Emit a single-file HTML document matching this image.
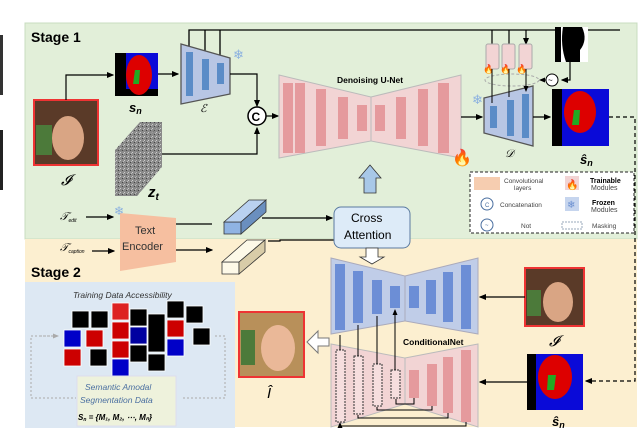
<!DOCTYPE html>
<html><head><style>body{margin:0;background:#fff}svg{display:block}text{font-family:"Liberation Sans",sans-serif}</style></head><body>
<svg width="640" height="428" viewBox="0 0 640 428" xmlns="http://www.w3.org/2000/svg">
<defs>
<marker id="a" markerWidth="6" markerHeight="6" refX="5" refY="3" orient="auto"><path d="M0,0.5 L6,3 L0,5.5z" fill="#000"/></marker>
<marker id="g" markerWidth="6" markerHeight="6" refX="5" refY="3" orient="auto"><path d="M0,0.5 L6,3 L0,5.5z" fill="#aaa"/></marker>
<pattern id="n" width="4" height="4" patternUnits="userSpaceOnUse"><rect width="4" height="4" fill="#8a8a8a"/><rect width="1" height="1" fill="#ccc"/><rect x="2" y="2" width="1" height="1" fill="#444"/><rect x="3" y="1" width="1" height="1" fill="#bbb"/></pattern>
</defs>
<rect x="0" y="35" width="3" height="60" fill="#333"/><rect x="0" y="130" width="3" height="60" fill="#222"/>
<rect x="25" y="23" width="612" height="216" fill="#e2efd9" stroke="#c8dcc0"/>
<rect x="25" y="239" width="612" height="188" fill="#fcefd0"/>
<rect x="25" y="282" width="210" height="146" fill="#dde8f3"/>
<text x="31" y="42" font-size="14" font-weight="bold">Stage 1</text>
<text x="31" y="277" font-size="14" font-weight="bold">Stage 2</text>
<path d="M189,54 V30 H620 M205,60 V30 M220,65 V30" stroke="#000" stroke-width="1.3" fill="none"/>
<path d="M492,30 V44 M509,30 V44 M526,30 V44" stroke="#000" stroke-width="1.2" marker-end="url(#a)"/>
<!-- face I -->
<rect x="34" y="100" width="64" height="65" fill="#5a3a28" stroke="#e33" stroke-width="2"/>
<rect x="36" y="125" width="16" height="30" fill="#4c7a3a"/>
<ellipse cx="68" cy="138" rx="16" ry="22" fill="#d9a584"/>
<text x="61" y="185" font-size="15" font-style="italic" font-family="Liberation Serif">𝓘</text>
<path d="M66,100 V75 H113" stroke="#000" stroke-width="1.2" fill="none" marker-end="url(#a)"/>
<rect x="115" y="53" width="43" height="43" fill="#000"/><rect x="126" y="53" width="32" height="36" fill="#0a0ad8"/>
<ellipse cx="139" cy="75" rx="13" ry="20" fill="#d00"/><path d="M135,70 L140,70 L139,84 L133,84z" fill="#2a2"/>
<text x="129" y="112" font-size="13" font-style="italic" font-weight="bold" font-family="Liberation Serif">s<tspan font-size="9" dy="2">n</tspan></text>
<path d="M158,74 H178" stroke="#000" stroke-width="1.2" marker-end="url(#a)"/>
<path d="M181,44 L230,58 L230,94 L181,104z" fill="#b8c6e4" stroke="#555" stroke-width="1.3"/>
<rect x="186" y="52" width="7" height="44" fill="#5b8cc7"/><rect x="202" y="59" width="7" height="31" fill="#5b8cc7"/><rect x="217" y="63" width="7" height="21" fill="#5b8cc7"/>
<text x="233" y="59" font-size="13" fill="#8ab0e0">❄</text>
<text x="200" y="112" font-size="11" font-style="italic" font-family="Liberation Serif">ℰ</text>
<path d="M230,74 H257 V106" stroke="#000" stroke-width="1.2" fill="none" marker-end="url(#a)"/>
<circle cx="257" cy="116" r="9" fill="#fff" stroke="#000" stroke-width="1.5"/>
<text x="251.5" y="121" font-size="12" font-weight="bold">C</text>
<path d="M266,116 H278" stroke="#000" stroke-width="1.2" marker-end="url(#a)"/>
<path d="M115,150 L140,122 L162,122 L162,167 L137,196 L115,196z" fill="url(#n)"/>
<path d="M115,150 L137,150 L137,196 M137,150 L162,122" stroke="#666" fill="none" stroke-width="0.5"/>
<text x="148" y="197" font-size="15" font-weight="bold" font-style="italic" font-family="Liberation Serif">z<tspan font-size="10" dy="3">t</tspan></text>
<path d="M162,154 H257 V128" stroke="#000" stroke-width="1.2" fill="none" marker-end="url(#a)"/>
<path d="M279,75 L371,97 L371,141 L279,158z" fill="#f2d4d4" stroke="#bbb"/>
<path d="M371,97 L461,75 L461,158 L371,141z" fill="#f2d4d4" stroke="#bbb"/>
<rect x="283" y="83" width="10" height="70" fill="#e59a9d"/><rect x="295" y="83" width="10" height="70" fill="#e59a9d"/><rect x="316" y="89" width="10" height="57" fill="#e59a9d"/><rect x="338" y="97" width="10" height="42" fill="#e59a9d"/><rect x="357" y="105" width="10" height="26" fill="#e59a9d"/>
<rect x="375" y="105" width="10" height="26" fill="#e59a9d"/><rect x="396" y="97" width="10" height="42" fill="#e59a9d"/><rect x="418" y="89" width="10" height="57" fill="#e59a9d"/><rect x="438" y="83" width="11" height="70" fill="#e59a9d"/>
<text x="337" y="83" font-size="8.5" font-weight="bold">Denoising U-Net</text>
<text x="452" y="163" font-size="16" fill="#e22">🔥</text>
<path d="M461,117 H482" stroke="#000" stroke-width="1.2" marker-end="url(#a)"/>
<path d="M364,193 V178 H359 L370,165 L381,178 H376 V193z" fill="#a8c8e8" stroke="#333" stroke-width="0.8"/>
<rect x="486" y="44" width="13" height="25" rx="2" fill="#f2d4d4" stroke="#aaa"/><rect x="502" y="44" width="13" height="25" rx="2" fill="#f2d4d4" stroke="#aaa"/><rect x="519" y="44" width="13" height="25" rx="2" fill="#f2d4d4" stroke="#aaa"/>
<text x="483" y="72" font-size="9" fill="#e22">🔥</text><text x="500" y="72" font-size="9" fill="#e22">🔥</text><text x="516" y="72" font-size="9" fill="#e22">🔥</text>
<ellipse cx="512" cy="80" rx="27" ry="6" fill="none" stroke="#aaa" stroke-dasharray="3,2"/>
<rect x="555" y="27" width="33" height="35" fill="#fff"/><path d="M563,27 L582,27 Q588,40 580,50 L580,62 L566,62 Q560,45 563,27z" fill="#000"/><rect x="555" y="27" width="6" height="35" fill="#000"/>
<path d="M570,62 V80 H562" stroke="#000" stroke-width="1.2" fill="none" marker-end="url(#a)"/>
<circle cx="552" cy="80" r="6" fill="#fff" stroke="#000"/><text x="548" y="83" font-size="8">~</text>
<path d="M546,80 H540" stroke="#000" stroke-width="1" marker-end="url(#a)"/>
<path d="M484,98 L533,86 L533,146 L484,133z" fill="#b8c6e4" stroke="#555" stroke-width="1.3"/>
<rect x="490" y="106" width="7" height="22" fill="#5b8cc7"/><rect x="507" y="100" width="7" height="36" fill="#5b8cc7"/><rect x="522" y="94" width="7" height="44" fill="#5b8cc7"/>
<path d="M492,69 V103 M509,69 V97 M526,69 V91" stroke="#000" stroke-width="1" marker-end="url(#a)"/>
<text x="472" y="104" font-size="13" fill="#8ab0e0">❄</text>
<text x="505" y="157" font-size="11" font-style="italic" font-family="Liberation Serif">𝒟</text>
<path d="M533,117 H550" stroke="#000" stroke-width="1.2" marker-end="url(#a)"/>
<rect x="552" y="89" width="57" height="57" fill="#000"/><rect x="562" y="89" width="47" height="57" fill="#0a0ad8"/>
<ellipse cx="580" cy="112" rx="16" ry="21" fill="#d00"/><path d="M574,110 L580,110 L579,125 L572,125z" fill="#2a2"/>
<text x="580" y="164" font-size="13" font-weight="bold" font-style="italic" font-family="Liberation Serif">ŝ<tspan font-size="9" dy="2">n</tspan></text>
<path d="M609,117 H635 V381 H586" stroke="#000" stroke-width="1.2" stroke-dasharray="4,3" fill="none" marker-end="url(#a)"/>
<rect x="470" y="172" width="164" height="61" fill="#fff" stroke="#222" stroke-dasharray="3,2"/>
<rect x="474" y="177" width="26" height="13" fill="#f6cdb0"/>
<text x="504" y="183" font-size="6.5" fill="#444">Convolutional</text><text x="514" y="190" font-size="6.5" fill="#444">layers</text>
<rect x="565" y="176" width="14" height="14" fill="#f2d4d4"/><text x="566" y="188" font-size="10" fill="#e22">🔥</text>
<text x="590" y="183" font-size="7" font-weight="bold">Trainable</text><text x="591" y="190" font-size="7" fill="#444">Modules</text>
<circle cx="487" cy="204" r="6" fill="#fff" stroke="#4a6fa0"/><text x="485" y="207" font-size="6" fill="#4a6fa0">C</text>
<text x="500" y="207" font-size="6.5" fill="#444">Concatenation</text>
<rect x="565" y="197" width="14" height="14" fill="#c6d5ee"/><text x="567" y="208" font-size="10" fill="#6a8fd0">❄</text>
<text x="592" y="205" font-size="7" font-weight="bold">Frozen</text><text x="591" y="212" font-size="7" fill="#444">Modules</text>
<circle cx="487" cy="225" r="6" fill="#fff" stroke="#4a6fa0"/><text x="485" y="227" font-size="6" fill="#4a6fa0">~</text>
<text x="521" y="228" font-size="6.5" fill="#444">Not</text>
<rect x="562" y="222" width="20" height="7" fill="#fff" stroke="#9ab" stroke-dasharray="2,1"/>
<text x="592" y="228" font-size="6.5" fill="#444">Masking</text>
<text x="60" y="220" font-size="11" font-style="italic" font-family="Liberation Serif">𝒯<tspan font-size="5" dy="2">edit</tspan></text>
<path d="M86,217 H113" stroke="#000" stroke-width="1.2" marker-end="url(#a)"/>
<text x="60" y="251" font-size="11" font-style="italic" font-family="Liberation Serif">𝒯<tspan font-size="5" dy="2">caption</tspan></text>
<path d="M92,251 H114" stroke="#000" stroke-width="1.2" marker-end="url(#a)"/>
<path d="M120,213 L176,218 L176,262 L120,271z" fill="#f6bfa0"/>
<text x="114" y="215" font-size="12" fill="#8ab0e0">❄</text>
<text x="135" y="234" font-size="11" fill="#333">Text</text>
<text x="122" y="250" font-size="11" fill="#333">Encoder</text>
<path d="M176,224 H212 M176,250 H212" stroke="#000" stroke-width="1.2" marker-end="url(#a)"/>
<path d="M224,222 L241,222 L241,234 L224,234z" fill="#8fb3e3" stroke="#333" stroke-width="0.8"/>
<path d="M224,222 L249,200 L266,200 L241,222z" fill="#b9d1f0" stroke="#333" stroke-width="0.8"/>
<path d="M241,222 L266,200 L266,212 L241,234z" fill="#6a8fbf" stroke="#333" stroke-width="0.8"/>
<path d="M222,262 L239,262 L239,274 L222,274z" fill="#fdf9e8" stroke="#333" stroke-width="0.8"/>
<path d="M222,262 L247,240 L265,240 L239,262z" fill="#fdf9e8" stroke="#333" stroke-width="0.8"/>
<path d="M239,262 L265,240 L265,252 L239,274z" fill="#d8cca8" stroke="#333" stroke-width="0.8"/>
<path d="M262,218 H332" stroke="#000" stroke-width="1.2" marker-end="url(#a)"/>
<path d="M268,241 H280 V240 H334" stroke="#000" stroke-width="1.2" fill="none"/>
<rect x="334" y="207" width="76" height="41" rx="7" fill="#ddebf8" stroke="#5a7aa0"/>
<text x="351" y="222" font-size="12">Cross</text><text x="344" y="239" font-size="12">Attention</text>
<path d="M366,248 V257 H360 L372,264 L384,257 H378 V248z" fill="#fff" stroke="#333" stroke-width="0.8"/>
<path d="M331,258 L405,276 L405,321 L331,334z" fill="#c0cde8" stroke="#aab"/>
<path d="M405,276 L478,258 L478,334 L405,321z" fill="#c0cde8" stroke="#aab"/>
<rect x="335" y="264" width="10" height="66" fill="#6c8ed6"/><rect x="353" y="271" width="10" height="52" fill="#6c8ed6"/><rect x="372" y="280" width="10" height="34" fill="#6c8ed6"/><rect x="390" y="286" width="10" height="22" fill="#6c8ed6"/>
<rect x="409" y="286" width="10" height="22" fill="#6c8ed6"/><rect x="426" y="280" width="10" height="34" fill="#6c8ed6"/><rect x="443" y="272" width="10" height="50" fill="#6c8ed6"/><rect x="461" y="265" width="10" height="64" fill="#6c8ed6"/>
<text x="403" y="345" font-size="8.5" font-weight="bold">ConditionalNet</text>
<path d="M331,344 L405,358 L405,404 L331,427z" fill="#f2d4d4" stroke="#bbb"/>
<path d="M405,358 L478,344 L478,427 L405,404z" fill="#f2d4d4" stroke="#bbb"/>
<rect x="336" y="350" width="9" height="72" fill="#f6dede" stroke="#333" stroke-dasharray="2,1"/>
<rect x="354" y="356" width="9" height="58" fill="#f6dede" stroke="#333" stroke-dasharray="2,1"/>
<rect x="373" y="364" width="9" height="42" fill="#f6dede" stroke="#333" stroke-dasharray="2,1"/>
<rect x="391" y="370" width="9" height="28" fill="#f6dede" stroke="#333" stroke-dasharray="2,1"/>
<rect x="409" y="370" width="10" height="28" fill="#e59a9d"/><rect x="427" y="364" width="10" height="42" fill="#e59a9d"/><rect x="443" y="357" width="10" height="56" fill="#e59a9d"/><rect x="461" y="350" width="10" height="72" fill="#e59a9d"/>
<path d="M340,350 V335 M358,356 V325 M377,364 V316 M395,370 V310" stroke="#000" stroke-width="1" marker-end="url(#a)"/>
<path d="M414,398 V404 H396 V399 M432,406 V410 H377 V407 M448,413 V418 H358 V415 M466,422 V426 H340 V423" stroke="#000" stroke-width="1" fill="none" marker-end="url(#a)"/>
<rect x="525" y="268" width="59" height="58" fill="#5a3a28" stroke="#e33" stroke-width="2"/>
<rect x="527" y="290" width="14" height="26" fill="#4c7a3a"/><ellipse cx="558" cy="302" rx="15" ry="20" fill="#d9a584"/>
<text x="549" y="346" font-size="15" font-style="italic" font-family="Liberation Serif">𝓘</text>
<path d="M525,297 H480" stroke="#000" stroke-width="1.2" marker-end="url(#a)"/>
<rect x="527" y="354" width="56" height="56" fill="#000"/><rect x="536" y="354" width="47" height="56" fill="#0a0ad8"/>
<ellipse cx="555" cy="377" rx="17" ry="22" fill="#d00"/><path d="M548,375 L556,375 L554,390 L547,390z" fill="#2a2"/>
<text x="552" y="426" font-size="13" font-weight="bold" font-style="italic" font-family="Liberation Serif">ŝ<tspan font-size="9" dy="2">n</tspan></text>
<path d="M527,382 H480" stroke="#000" stroke-width="1.2" marker-end="url(#a)"/>
<path d="M329,338 H318 V331 L307,342 L318,353 V346 H329z" fill="#fff" stroke="#777"/>
<rect x="239" y="312" width="65" height="65" fill="#b8905a" stroke="#e33" stroke-width="2"/>
<rect x="241" y="330" width="14" height="35" fill="#4c7a3a"/><ellipse cx="278" cy="348" rx="17" ry="23" fill="#eab898"/>
<text x="267" y="398" font-size="15" font-style="italic" font-family="Liberation Serif">Î</text>
<text x="73" y="298" font-size="8.5" font-style="italic" fill="#333">Training Data Accessibility</text>
<g stroke="#fff" stroke-width="0.8">
<rect x="72" y="311" width="17" height="17" fill="#000"/><rect x="91" y="311" width="17" height="17" fill="#000"/>
<rect x="64" y="330" width="17" height="17" fill="#0000c8"/><rect x="86" y="330" width="17" height="17" fill="#c00"/>
<rect x="64" y="349" width="17" height="17" fill="#c00"/><rect x="90" y="349" width="17" height="17" fill="#000"/>
<rect x="112" y="303" width="17" height="17" fill="#d22"/><rect x="112" y="322" width="17" height="17" fill="#c00"/><rect x="112" y="341" width="17" height="17" fill="#c00"/><rect x="112" y="359" width="17" height="17" fill="#0000c8"/>
<rect x="130" y="309" width="17" height="17" fill="#000"/><rect x="130" y="327" width="17" height="17" fill="#0000a0"/><rect x="130" y="345" width="17" height="17" fill="#000"/>
<rect x="148" y="314" width="17" height="38" fill="#000"/><rect x="148" y="354" width="17" height="17" fill="#000"/>
<rect x="167" y="301" width="17" height="17" fill="#000"/><rect x="167" y="320" width="17" height="17" fill="#c00"/><rect x="167" y="339" width="17" height="17" fill="#0000c8"/>
<rect x="186" y="306" width="17" height="17" fill="#000"/><rect x="193" y="328" width="17" height="17" fill="#000"/>
</g>
<path d="M57,336 H31 V398 H76 M183,398 H225 V336 H215" stroke="#aaa" stroke-dasharray="2,2" fill="none"/>
<path d="M40,336 H58" stroke="#aaa" stroke-dasharray="2,2" marker-end="url(#g)"/>
<rect x="77" y="376" width="99" height="50" fill="#eef2dc" stroke="#dde"/>
<text x="85" y="390" font-size="8.5" font-style="italic" fill="#4a6fa0">Semantic Amodal</text>
<text x="80" y="403" font-size="8.5" font-style="italic" fill="#4a6fa0">Segmentation Data</text>
<text x="78" y="420" font-size="8" font-style="italic" font-family="Liberation Serif" font-weight="bold">S<tspan font-size="5" dy="1">n</tspan><tspan dy="-1"> = {M₁, M₂, ⋯, Mₙ}</tspan></text>
</svg>
</body></html>
